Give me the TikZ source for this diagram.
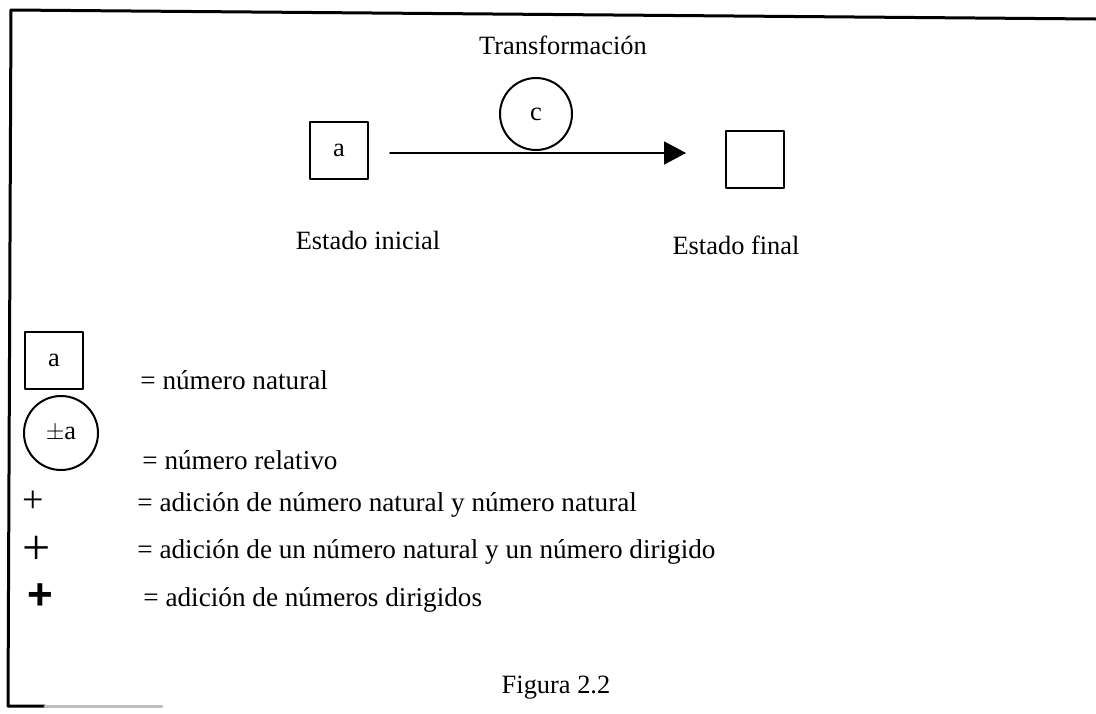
\documentclass[tikz,border=0pt]{standalone}
\usepackage{fontspec}
\setmainfont{Liberation Serif}
\setsansfont{Liberation Sans}
\usetikzlibrary{arrows.meta}

\tikzset{
  txt/.style={font=\fontsize{13.2}{15}\selectfont,inner sep=0pt},
  legtxt/.style={font=\fontsize{13.6}{15}\selectfont,inner sep=0pt,anchor=west},
  sqbox/.style={draw,line width=1pt,minimum width=29pt,minimum height=28.5pt,inner sep=0pt},
  numcirc/.style={draw,circle,line width=1pt,minimum size=36pt,inner sep=0pt},
}

\begin{document}
\begin{tikzpicture}[line cap=round,line join=round,x=0.5pt,y=-0.5pt]
    \useasboundingbox (0,0) rectangle (1096,713);
    % marco
    \draw [line width=1.5pt] (1096,19) -- (11,10) -- (8,706) -- (45,706);
    \draw [line width=1.5pt,black!25] (45,706) -- (162,706);
    % transformacion
    \node[txt] (transf) at (563,45) {Transformación};
    \node[numcirc,txt,minimum size=36pt] (cc) at (536,114) {c};
    \node[sqbox,txt] (ini) at (339,150.5) {a};
    \node[sqbox] (fin) at (755,159) {};
    \coordinate (tail) at (390,153);
    \coordinate (head) at (686,153);
    \draw [line width=0.9pt,-{Triangle[length=11pt,width=11.5pt]}] (tail) -- (head);
    \node[txt] (estini) at (368,240) {Estado inicial};
    \node[txt] (estfin) at (736,245) {Estado final};
    % leyenda
    \node[sqbox,txt] (legbox) at (54,360) {a};
    \node[numcirc,txt,minimum size=37pt] (legcirc) at (61,433) {$\pm$a};
    \node[txt,font=\fontsize{19}{19}\selectfont] (plusA) at (33,502) {+};
    \node[txt,font=\fontsize{25}{25}\selectfont] (plusB) at (37,550) {+};
    \node[txt,font=\fontsize{22}{22}\sffamily\bfseries] (plusC) at (40,597) {+};
    \node[legtxt] (natural) at (140,380) {= número natural};
    \node[legtxt] (relativo) at (142,460) {= número relativo};
    \node[legtxt] (adicA) at (137,505) {= adición de número natural y número natural};
    \node[legtxt] (adicB) at (137,552) {= adición de un número natural y un número dirigido};
    \node[legtxt] (adicC) at (143,600) {= adición de números dirigidos};
    \node[txt] (figura) at (556,688) {Figura 2.2};
\end{tikzpicture}
\end{document}
